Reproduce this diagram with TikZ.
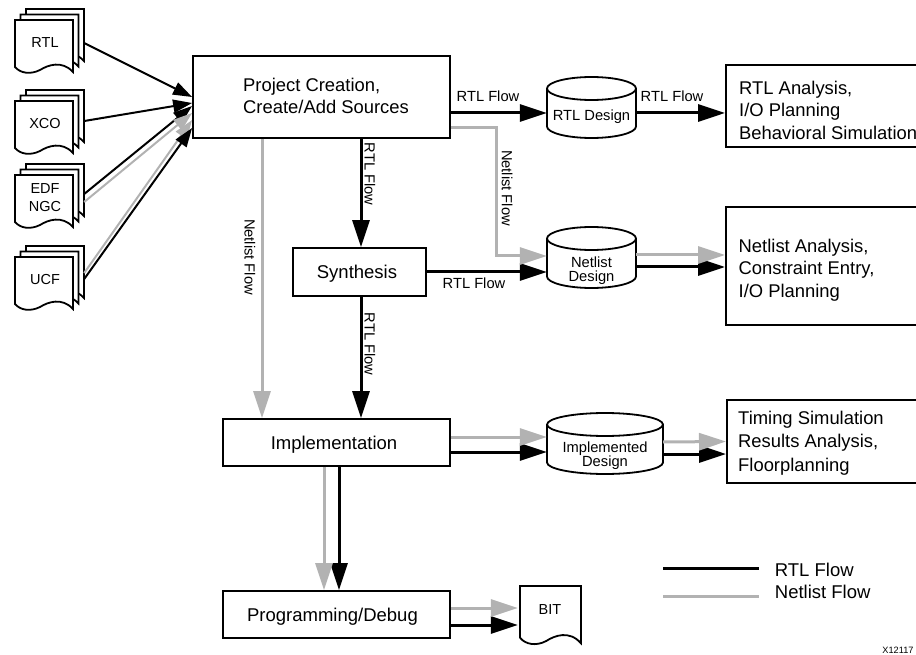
\documentclass[tikz,border=0pt]{standalone}
\usepackage{fontspec}
\setmainfont{Liberation Sans}
\usetikzlibrary{arrows.meta}

\newcommand{\docsheet}[3][]{\draw[sheet,shift={(#2,#3)},#1] (0,0) -- (58,0) -- (58,52) .. controls (47,40) and (33,45) .. (25,50) .. controls (15,55) and (5,53) .. (0,47) -- cycle;}
\newcommand{\drum}[3]{\draw[sheet,shift={(#1-#3*0.5,#2)}] (0,11.5) .. controls (0,5.2) and (#3*0.225,0) .. (#3*0.5,0) .. controls (#3*0.775,0) and (#3,5.2) .. (#3,11.5) -- (#3,49.5) .. controls (#3,55.8) and (#3*0.775,61) .. (#3*0.5,61) .. controls (#3*0.225,61) and (0,55.8) .. (0,49.5) -- cycle
	(0,11.5) .. controls (0,17.8) and (#3*0.225,23) .. (#3*0.5,23) .. controls (#3*0.775,23) and (#3,17.8) .. (#3,11.5);}

\begin{document}
\begin{tikzpicture}[x=1pt,y=-1pt,
	sheet/.style={draw=black,fill=white,line width=1.8pt},
	box/.style={draw=black,fill=white,line width=1.8pt,inner sep=0pt,text depth=0pt,font=\fontsize{18.5}{22.5}\selectfont,align=center},
	boxtext/.style={inner sep=0pt,anchor=west,font=\fontsize{18.4}{22.5}\selectfont,align=left},
	result/.style={draw=black,fill=white,line width=1.8pt,inner sep=0pt,anchor=west,minimum width=220pt},
	drumlabel/.style={inner sep=0pt,font=\fontsize{14.7}{14.3}\selectfont,align=center},
	doclabel/.style={inner sep=0pt,minimum width=78pt,font=\fontsize{14.5}{18}\selectfont,align=center},
	flowlabel/.style={inner sep=0pt,font=\fontsize{14.7}{17}\selectfont},
	rtlin/.style={draw=black,line width=2pt,-{Triangle[length=19pt,width=13pt]}},
	netin/.style={draw=black!30,line width=2pt,-{Triangle[length=19pt,width=13pt]}},
	rtl/.style={draw=black,line width=3pt,-{Triangle[length=27pt,width=17pt]}},
	net/.style={draw=black!30,line width=3pt,-{Triangle[length=27pt,width=17pt]}}]
\useasboundingbox (0,0) rectangle (916,655);

% source files
\foreach \n/\y/\t in {rtlsrc/20/RTL,xco/101/XCO,edf/175/{EDF\\NGC},ucf/257/UCF}
{
	\docsheet{26}{\y-11}
	\docsheet{20.5}{\y-5.5}
	\docsheet{15}{\y}
	\node[doclabel] (\n) at (45,\y+23) {\t};
}

% flow boxes
\node[box,minimum width=257pt,minimum height=82pt] (proj) at (321.5,97) {};
\node[boxtext] (projtext) at (243,96) {Project Creation,\\Create/Add Sources};
\node[box,minimum width=133pt,minimum height=48pt] (synth) at (359.5,272) {Synthesis\hspace*{5pt}};
\node[box,minimum width=227pt,minimum height=47pt] (impl) at (336.5,442.5) {Implementation\hspace*{5pt}};
\node[box,minimum width=227pt,minimum height=47pt] (prog) at (336.5,614.5) {Programming/Debug\hspace*{8pt}};

% designs
\drum{591.5}{77}{89}
\node[drumlabel,minimum width=89pt] (rtldes) at (591.5,117) {RTL Design};
\drum{591.5}{227}{89}
\node[drumlabel,minimum width=89pt] (netdes) at (591.5,270.5) {Netlist\\Design};
\drum{605}{413}{116}
\node[drumlabel,minimum width=116pt] (impdes) at (605,456) {Implemented\\Design};

% results
\node[result,minimum height=82pt] (rtlres) at (725,106) {};
\node[boxtext] (rtltext) at (739,110) {RTL Analysis,\\I/O Planning\\Behavioral Simulation};
\node[result,minimum height=118pt] (netres) at (725,266) {};
\node[boxtext] (nettext) at (738.5,270) {Netlist Analysis,\\Constraint Entry,\\I/O Planning};
\node[result,minimum height=83pt] (impres) at (726,441.5) {};
\node[boxtext] (imptext) at (738,443) {Timing Simulation\\[1pt]Results Analysis,\\[1pt]Floorplanning};

% bitstream
\docsheet[xscale=1.05,yscale=1.1]{520}{586}
\node[doclabel,minimum width=64pt] (bit) at (550,610) {BIT};

% sources into project
\draw[rtlin] (rtlsrc.east) -- (proj.west);
\draw[rtlin] ([yshift=3pt]xco.east) -- ([yshift=-6pt]proj.west);
\draw[rtlin] ([yshift=4pt]edf.east) -- ([yshift=-9pt]proj.west);
\draw[netin] ([yshift=-4pt]edf.east) -- ([yshift=-16pt]proj.west);
\draw[netin] ([yshift=7pt]ucf.east) -- ([yshift=-23pt]proj.west);
\draw[rtlin] ([yshift=1pt]ucf.east) -- ([yshift=-31pt]proj.west);

% rtl flow
\draw[rtl] ([yshift=-16pt]proj.east) -- ([yshift=4pt]rtldes.west);
\draw[rtl] ([yshift=4pt]rtldes.east) -- ([yshift=-7pt]rtlres.west);
\draw[rtl] ([xshift=39.5pt]proj.south) -- ([xshift=1.5pt]synth.north);
\draw[rtl] (synth.east) -- ([yshift=-1.5pt]netdes.west);
\draw[rtl] ([xshift=1.5pt]synth.south) -- ([xshift=24.5pt]impl.north);
\draw[rtl] ([yshift=3.5pt]netdes.east) -- ([yshift=-1pt]netres.west);
\draw[rtl] ([yshift=-9.5pt]impl.east) -- ([yshift=4pt]impdes.west);
\draw[rtl] ([yshift=2pt]impdes.east) -- ([yshift=-12.5pt]impres.west);
\draw[rtl] ([xshift=2.5pt]impl.south) -- ([xshift=2.5pt]prog.north);
\draw[rtl] ([yshift=-10.5pt]prog.east) -- ([yshift=-15pt]bit.west);

% netlist flow
\draw[net] ([yshift=-31pt]proj.east) -| (496,256) -- ([yshift=14.5pt]netdes.west);
\draw[net] ([xshift=-59.5pt]proj.south) -- ([xshift=-74.5pt]impl.north);
\draw[net] ([yshift=15.5pt]netdes.east) -- ([yshift=11pt]netres.west);
\draw[net] ([yshift=5.5pt]impl.east) -- ([yshift=19pt]impdes.west);
\draw[net] ([yshift=14pt]impdes.east) -- (impres.west);
\draw[net] ([xshift=-12.5pt]impl.south) -- ([xshift=-12.5pt]prog.north);
\draw[net] ([yshift=6.5pt]prog.east) -- ([yshift=2pt]bit.west);

% labels on the flows
\node[flowlabel] (la) at (488,96) {RTL Flow};
\node[flowlabel] (lb) at (672,96) {RTL Flow};
\node[flowlabel] (lc) at (474,283) {RTL Flow};
\node[flowlabel,rotate=-90] (ld) at (370,174) {RTL Flow};
\node[flowlabel,rotate=-90] (le) at (370,344) {RTL Flow};
\node[flowlabel,rotate=-90] (lf) at (507,188) {Netlist Flow};
\node[flowlabel,rotate=-90] (lg) at (250,257) {Netlist Flow};

% legend
\node[box,draw=none,fill=none,anchor=west,inner xsep=15pt] (legrtl) at (759,570) {RTL Flow};
\node[box,draw=none,fill=none,anchor=west,inner xsep=15pt] (legnet) at (759,592) {Netlist Flow};
\coordinate (legrtlstart) at (663,568);
\coordinate (legnetstart) at (663,596);
\draw[black,line width=3pt] (legrtlstart) -- ([yshift=2pt]legrtl.west);
\draw[black!30,line width=3pt] (legnetstart) -- ([yshift=-4pt]legnet.west);

\node[inner sep=0pt,font=\fontsize{9.2}{11}\selectfont] (figid) at (898,650) {X12117};
\end{tikzpicture}
\end{document}
